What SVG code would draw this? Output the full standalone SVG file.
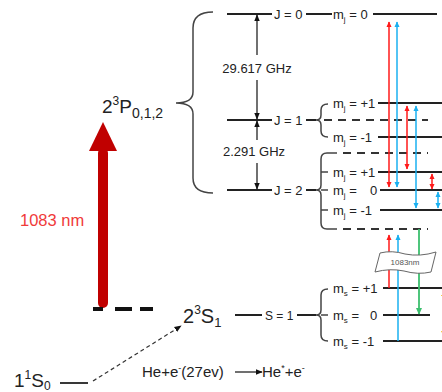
<svg xmlns="http://www.w3.org/2000/svg" width="442" height="392" viewBox="0 0 442 392">
<style>
text{font-family:"Liberation Sans",Arial,sans-serif;fill:#222}
.lv{stroke:#222;stroke-width:1.8;fill:none}
.br{stroke:#444;stroke-width:1.5;fill:none}
.dash{stroke:#333;stroke-width:1.8;fill:none;stroke-dasharray:8,6}
.t13{font-size:13px}
.t12{font-size:12px}
.ar{stroke:#111;stroke-width:1.2;fill:none}
.r{stroke:#ff1a1a;stroke-width:1.5;fill:none}
.b{stroke:#1ab0f0;stroke-width:1.5;fill:none}
.g{stroke:#3cbf6e;stroke-width:1.8;fill:none}
</style>
<defs>
<marker id="mk" viewBox="0 0 10 10" refX="9" refY="5" markerWidth="6" markerHeight="6" orient="auto-start-reverse"><path d="M0,1 L10,5 L0,9 Z" fill="#111"/></marker>
<marker id="mr" viewBox="0 0 10 10" refX="9" refY="5" markerWidth="6" markerHeight="6" orient="auto-start-reverse" markerUnits="userSpaceOnUse"><path d="M0,0.5 L10,5 L0,9.5 Z" fill="#ff1a1a"/></marker>
<marker id="mb" viewBox="0 0 10 10" refX="9" refY="5" markerWidth="6" markerHeight="6" orient="auto-start-reverse" markerUnits="userSpaceOnUse"><path d="M0,0.5 L10,5 L0,9.5 Z" fill="#1ab0f0"/></marker>
<marker id="mg" viewBox="0 0 10 10" refX="9" refY="5" markerWidth="7" markerHeight="7" orient="auto-start-reverse" markerUnits="userSpaceOnUse"><path d="M0,0.5 L10,5 L0,9.5 Z" fill="#3cbf6e"/></marker>
</defs>

<g id="pump-arrow">
<rect x="98" y="148" width="10" height="160" rx="5" fill="#c00000"/>
<polygon points="89,151 117,151 103,122" fill="#c00000"/>
<text x="20" y="226" style="font-size:16.5px;fill:#f03a3a">1083 nm</text>
<path d="M93,309 H153" stroke="#111" stroke-width="4" stroke-dasharray="10,12,17,8,13"/>
</g>

<g id="label-2P">
<text x="102" y="113" style="font-size:19px">2<tspan dy="-8" style="font-size:12px">3</tspan><tspan dy="8">P</tspan><tspan dy="5" style="font-size:14px">0,1,2</tspan></text>
<path class="br" d="M213,12 Q193,12 193,28 L193,92 Q193,103 176,103 Q193,103 193,114 L193,178 Q193,193 213,193"/>
</g>

<g id="label-2S">
<text x="183" y="323" style="font-size:20px">2<tspan dy="-9" style="font-size:12px">3</tspan><tspan dy="9">S</tspan><tspan dy="4" style="font-size:13px">1</tspan></text>
</g>

<g id="label-1S">
<text x="14" y="387" style="font-size:19px">1<tspan dy="-8" style="font-size:12px">1</tspan><tspan dy="8">S</tspan><tspan dy="3" style="font-size:12px">0</tspan></text>
<path class="lv" d="M60,383 H88"/>
</g>

<g id="J0">
<path class="lv" d="M227,14 H272 M306,14 H332 M373,14 H437"/>
<text class="t13" x="274" y="18.5">J = 0</text>
<text class="t13" x="333" y="18.5">m<tspan dy="3" style="font-size:8px">j</tspan><tspan dy="-3"> = 0</tspan></text>
</g>

<g id="J1">
<path class="lv" d="M227,120 H272 M306,120 H316"/>
<text class="t13" x="274" y="124.5">J = 1</text>
<path class="br" d="M328,104 Q321,104 321,110 L321,115 Q321,120 316,120 Q321,120 321,125 L321,131 Q321,137 328,137"/>
<path class="lv" d="M378,103 H442 M378,137 H442"/>
<path class="dash" d="M324,120 H428"/>
<text class="t13" x="333" y="107.5">m<tspan dy="3" style="font-size:8px">j</tspan><tspan dy="-3"> = +1</tspan></text>
<text class="t13" x="333" y="141.5">m<tspan dy="3" style="font-size:8px">j</tspan><tspan dy="-3"> =  -1</tspan></text>
</g>

<g id="J2">
<path class="lv" d="M227,190 H272 M306,190 H316"/>
<text class="t13" x="274" y="194.5">J = 2</text>
<path class="br" d="M337,153 L327,153 Q321,153 321,159 L321,185 Q321,190 316,190 Q321,190 321,195 L321,223 Q321,229 327,229 L337,229 M321,172 H328 M321,190 H328 M321,210 H328"/>
<path class="dash" d="M343,153 H428 M343,229 H428"/>
<path class="lv" d="M378,172 H442 M380,190 H442 M380,210 H442"/>
<text class="t13" x="333" y="176.5">m<tspan dy="3" style="font-size:8px">j</tspan><tspan dy="-3"> = +1</tspan></text>
<text class="t13" x="333" y="194.5">m<tspan dy="3" style="font-size:8px">j</tspan><tspan dy="-3"> =</tspan></text>
<text class="t13" x="370" y="194.5">0</text>
<text class="t13" x="333" y="214.5">m<tspan dy="3" style="font-size:8px">j</tspan><tspan dy="-3"> =  -1</tspan></text>
</g>

<g id="S1">
<path class="lv" d="M235,315 H262 M297,315 H316"/>
<text class="t12" x="265" y="319.5">S = 1</text>
<path class="br" d="M328,289 Q321,289 321,295 L321,310 Q321,315 316,315 Q321,315 321,320 L321,335 Q321,341 328,341 M321,315 H328"/>
<path class="lv" d="M383,288 H442 M383,315 H430 M383,341 H442"/>
<text class="t13" x="333" y="292.5">m<tspan dy="3" style="font-size:8px">s</tspan><tspan dy="-3"> = +1</tspan></text>
<text class="t13" x="333" y="319.5">m<tspan dy="3" style="font-size:8px">s</tspan><tspan dy="-3"> =</tspan></text>
<text class="t13" x="370" y="319.5">0</text>
<text class="t13" x="333" y="345.5">m<tspan dy="3" style="font-size:8px">s</tspan><tspan dy="-3"> =  -1</tspan></text>
</g>

<g id="splittings">
<path class="ar" d="M257,55 V15" marker-end="url(#mk)"/>
<path class="ar" d="M257,80 V119" marker-end="url(#mk)"/>
<text class="t13" x="257" y="73" text-anchor="middle">29.617 GHz</text>
<path class="ar" d="M257,140 V121" marker-end="url(#mk)"/>
<path class="ar" d="M257,163 V189" marker-end="url(#mk)"/>
<text class="t13" x="254" y="156" text-anchor="middle">2.291 GHz</text>
</g>

<g id="reaction">
<path d="M93,381 L181,326" stroke="#333" stroke-width="1.2" stroke-dasharray="4,3" fill="none" marker-end="url(#mk)"/>
<text x="142" y="377" style="font-size:15px">He+e<tspan dy="-6" style="font-size:9px">-</tspan><tspan dy="6">(27ev)</tspan></text>
<path class="ar" d="M235,372 H262" marker-end="url(#mk)"/>
<text x="262" y="377" style="font-size:15px">He<tspan dy="-6" style="font-size:9px">*</tspan><tspan dy="6">+e</tspan><tspan dy="-6" style="font-size:9px">-</tspan></text>
</g>

<g id="connectors">
<path class="r" d="M389,22 V187" marker-start="url(#mr)" marker-end="url(#mr)"/>
<path class="b" d="M397,22 V187" marker-start="url(#mb)" marker-end="url(#mb)"/>
<path class="r" d="M407,106 V169" marker-start="url(#mr)" marker-end="url(#mr)"/>
<path class="b" d="M416,106 V208" marker-start="url(#mb)" marker-end="url(#mb)"/>
<path class="r" d="M432,174 V189" marker-start="url(#mr)" marker-end="url(#mr)"/>
<path class="b" d="M438,192 V208" marker-start="url(#mb)" marker-end="url(#mb)"/>
<path class="r" d="M389,288 V235" marker-end="url(#mr)"/>
<path class="b" d="M398,341 V235" marker-end="url(#mb)"/>
<path class="g" d="M419,229 V314" marker-end="url(#mg)"/>
<polygon points="445,289 441,296 449,296" fill="#f5b800"/>
<polygon points="445,338 441,331 449,331" fill="#f5b800"/>
</g>

<g id="laser-box">
<path d="M380,253 Q392,250 405,254 Q420,257 436,252 L431,272 Q418,275 404,271 Q390,268 375,272 Z" fill="#fff" stroke="#666" stroke-width="1"/>
<text x="405" y="265" text-anchor="middle" style="font-size:8px;fill:#555">1083nm</text>
</g>
</svg>
